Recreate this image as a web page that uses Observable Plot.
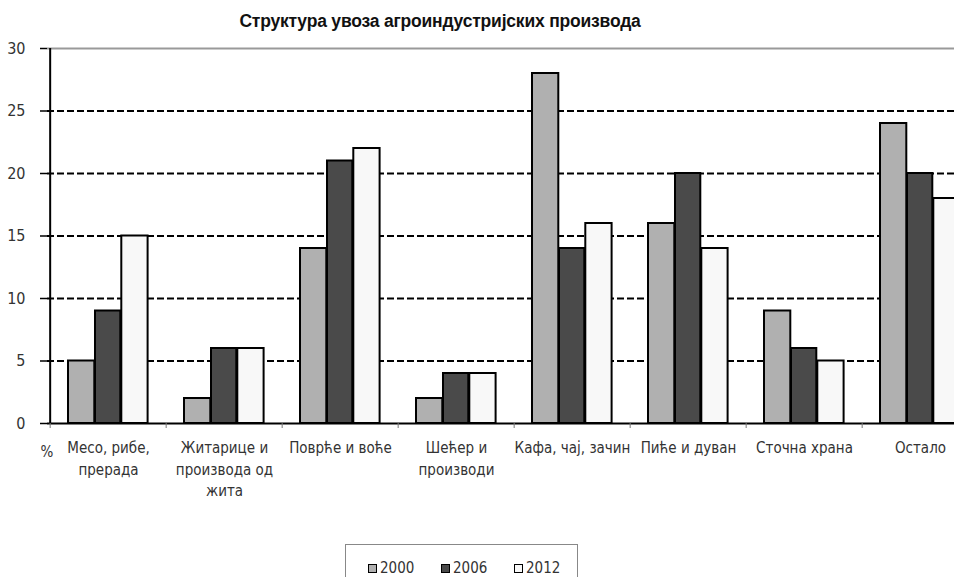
<!DOCTYPE html>
<html>
<head>
<meta charset="utf-8">
<script src="https://cdn.jsdelivr.net/npm/d3@7"></script>
<script src="https://cdn.jsdelivr.net/npm/@observablehq/plot@0.6"></script>
<style>
  html, body { margin: 0; padding: 0; background: #fff; overflow: hidden; }
  #wrap { position: relative; width: 954px; height: 577px; }
  #title { position: absolute; left: 0; width: 880px; top: 11px; text-align: center;
           font-family: "Liberation Sans", Arial, sans-serif; font-weight: bold; font-size: 17.5px; color: #111; letter-spacing: -0.2px; }
  #chart { position: absolute; left: 0; top: 0; }
  #legend { position: absolute; left: 345px; top: 544px; width: 233px; height: 40px;
            border: 1px solid #888; box-sizing: border-box; background: #fff;
            font-family: "DejaVu Sans Condensed", "Liberation Sans Narrow", "Arial Narrow", sans-serif;
            font-size: 15px; color: #333; }
  #legend .item { position: absolute; top: 17px; line-height: 13px; white-space: nowrap; }
  #legend .sw { display: inline-block; width: 7px; height: 7px; border: 1.5px solid #000; margin-right: 3px; vertical-align: 0px; }
</style>
</head>
<body>
<div id="wrap">
  <div id="chart"></div>
  <div id="title"></div>
  <div id="legend"></div>
</div>
<script>
const titleText = "Структура увоза агроиндустријских производа";
const categories = ["Месо, рибе, прерада", "Житарице и производа од жита", "Поврће и воће", "Шећер и производи", "Кафа, чај, зачин", "Пиће и дуван", "Сточна храна", "Остало"];
const categoryLabels = ["Месо, рибе,\nпрерада", "Житарице и\nпроизвода од\nжита", "Поврће и воће", "Шећер и\nпроизводи", "Кафа, чај, зачин", "Пиће и дуван", "Сточна храна", "Остало"];
const years = ["2000", "2006", "2012"];
const values2000 = [5, 2, 14, 2, 28, 16, 9, 24];
const values2006 = [9, 6, 21, 4, 14, 20, 6, 20];
const values2012 = [15, 6, 22, 4, 16, 14, 5, 18];
const yTicks = [0, 5, 10, 15, 20, 25, 30];
const gridValues = [5, 10, 15, 20, 25];
const yearColors = ["#b0b0b0", "#4a4a4a", "#f8f8f8"];

const series = [values2000, values2006, values2012];
const labelOf = new Map(categories.map((c, i) => [c, categoryLabels[i]]));
const narrow = '"DejaVu Sans Condensed", "Liberation Sans Narrow", "Arial Narrow", sans-serif';

document.getElementById("title").textContent = titleText;

// bar placement inside each category band (pixels)
const insets = [[18, 71.7], [45, 45.7], [71.3, 18.4]];

const barMarks = years.map((yr, k) => Plot.barY(
  categories.map((c, i) => ({category: c, value: series[k][i]})),
  {x: "category", y: "value", fill: yearColors[k], stroke: "#000", strokeWidth: 2,
   insetLeft: insets[k][0], insetRight: insets[k][1]}
));

const chart = Plot.plot({
  width: 954,
  height: 577,
  marginTop: 48,
  marginBottom: 154,
  marginLeft: 47,
  marginRight: 0,
  style: {fontFamily: narrow, fontSize: "15px", color: "#222", background: "transparent"},
  x: {type: "band", domain: categories, range: [47, 980], padding: 0},
  y: {domain: [0, 30]},
  marks: [
    Plot.ruleY(gridValues, {stroke: "#000", strokeWidth: 2, strokeDasharray: "7,3"}),
    Plot.ruleY([30], {stroke: "#999", strokeWidth: 2}),
    ...barMarks,
    Plot.ruleY([0], {stroke: "#000", strokeWidth: 2}),
    Plot.ruleX([0], {x: () => categories[0], dx: -58.33, y1: 30, y2: 0, stroke: "#000", strokeWidth: 2}),
    Plot.axisY({ticks: yTicks, tickSize: 7, tickPadding: 15, label: null, stroke: "#000", strokeWidth: 1.5, fill: "#333", fontSize: 16}),
    Plot.axisX({tickSize: 5, dx: -58.33, tickFormat: () => "", label: null, stroke: "#777", strokeWidth: 1}),
    Plot.axisX({tickSize: 0, tickPadding: 14, tickFormat: (d) => labelOf.get(d), lineHeight: 1.45, label: null, fill: "#333", fontSize: 15, textOverflow: null}),
    Plot.text(["%"], {frameAnchor: "bottom-left", dx: -7, dy: 33, fill: "#333", fontSize: 15})
  ]
});
document.getElementById("chart").appendChild(chart);

const legend = document.getElementById("legend");
const legendX = [22, 95, 168];
years.forEach((yr, k) => {
  const it = document.createElement("div");
  it.className = "item";
  it.style.left = legendX[k] + "px";
  const sw = document.createElement("span");
  sw.className = "sw";
  sw.style.background = yearColors[k];
  it.appendChild(sw);
  it.appendChild(document.createTextNode(yr));
  legend.appendChild(it);
});
</script>
</body>
</html>
